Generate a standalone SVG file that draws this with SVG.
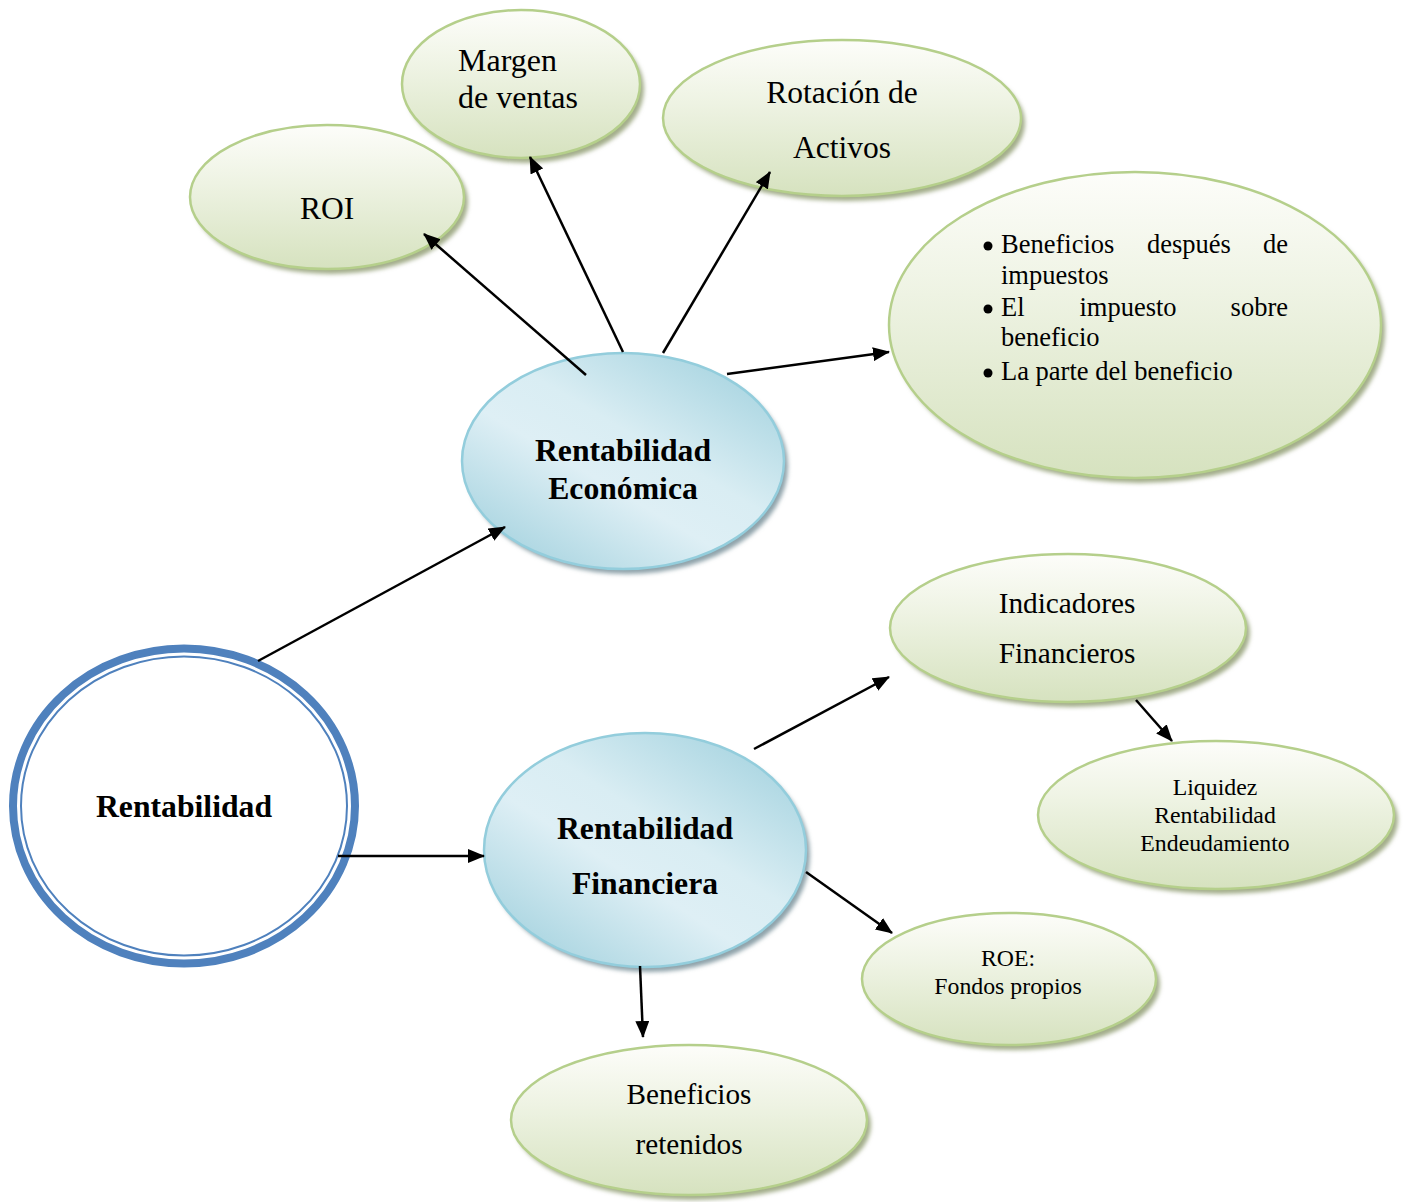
<svg xmlns="http://www.w3.org/2000/svg" width="1408" height="1202" viewBox="0 0 1408 1202">
<defs>
<style>
.g{fill:url(#gg);stroke:#b5cf8b;stroke-width:2.5}
.sh{fill:#a3ad8a;filter:url(#bl)}
.shb{fill:#8fa3aa;filter:url(#bl)}
.b{fill:url(#bg);stroke:#93cddc;stroke-width:2.5}
.t{font-family:"Liberation Serif","Times New Roman",serif;fill:#000}
.tb{font-family:"Liberation Serif","Times New Roman",serif;font-weight:bold;fill:#000;font-size:31.7px;text-anchor:middle}
.c{stroke:#000;stroke-width:2.5;fill:none;marker-end:url(#ah)}
</style>
<linearGradient id="gg" x1="0" y1="0" x2="0" y2="1">
<stop offset="0" stop-color="#fdfdfa"/>
<stop offset="0.4" stop-color="#eef3e3"/>
<stop offset="1" stop-color="#d6e2bf"/>
</linearGradient>
<linearGradient id="bg" x1="0.9" y1="0.1" x2="0.15" y2="0.95">
<stop offset="0" stop-color="#a9d5e1"/>
<stop offset="0.4" stop-color="#d9edf3"/>
<stop offset="0.6" stop-color="#deeff5"/>
<stop offset="1" stop-color="#a8d4e0"/>
</linearGradient>
<filter id="bl" x="-10%" y="-10%" width="120%" height="120%"><feGaussianBlur stdDeviation="2"/></filter>
<marker id="ah" markerUnits="userSpaceOnUse" markerWidth="18" markerHeight="14" refX="16" refY="7" orient="auto">
<path d="M0,0 L17,7 L0,14 z" fill="#000"/>
</marker>
</defs>

<g id="rentabilidad">
<ellipse cx="184" cy="806" rx="171" ry="157.5" fill="#fff" stroke="#4f81bd" stroke-width="8"/>
<ellipse cx="184" cy="806" rx="163" ry="149.5" fill="none" stroke="#4f81bd" stroke-width="2"/>
<text class="tb" x="184" y="817">Rentabilidad</text>
</g>

<g id="economica">
<ellipse class="shb" cx="627" cy="466" rx="161" ry="108"/>
<ellipse class="b" cx="623" cy="461" rx="161" ry="108"/>
<text class="tb" x="623" y="461">Rentabilidad</text>
<text class="tb" x="623" y="499">Económica</text>
</g>

<g id="financiera">
<ellipse class="shb" cx="649" cy="855" rx="161" ry="117"/>
<ellipse class="b" cx="645" cy="850" rx="161" ry="117"/>
<text class="tb" x="645" y="839">Rentabilidad</text>
<text class="tb" x="645" y="894">Financiera</text>
</g>

<g id="roi">
<ellipse class="sh" cx="331" cy="202" rx="137" ry="72"/>
<ellipse class="g" cx="327" cy="197" rx="137" ry="72"/>
<text class="t" x="327" y="219" font-size="31.5" text-anchor="middle">ROI</text>
</g>

<g id="margen">
<ellipse class="sh" cx="525" cy="89" rx="119" ry="74"/>
<ellipse class="g" cx="521" cy="84" rx="119" ry="74"/>
<text class="t" x="458" y="71" font-size="32">Margen</text>
<text class="t" x="458" y="108" font-size="32">de ventas</text>
</g>

<g id="rotacion">
<ellipse class="sh" cx="846" cy="123" rx="179" ry="78"/>
<ellipse class="g" cx="842" cy="118" rx="179" ry="78"/>
<text class="t" x="842" y="103" font-size="31.5" text-anchor="middle">Rotación de</text>
<text class="t" x="842" y="158" font-size="31.5" text-anchor="middle">Activos</text>
</g>

<g id="beneficios">
<ellipse class="sh" cx="1139" cy="330" rx="246" ry="153"/>
<ellipse class="g" cx="1135" cy="325" rx="246" ry="153"/>
<g class="t" font-size="26.5">
<circle cx="988" cy="246" r="4.5" fill="#000"/>
<text x="1001" y="253">Beneficios</text>
<text x="1147" y="253">después</text>
<text x="1288" y="253" text-anchor="end">de</text>
<text x="1001" y="284">impuestos</text>
<circle cx="988" cy="309" r="4.5" fill="#000"/>
<text x="1001" y="316">El</text>
<text x="1128" y="316" text-anchor="middle">impuesto</text>
<text x="1288" y="316" text-anchor="end">sobre</text>
<text x="1001" y="346">beneficio</text>
<circle cx="988" cy="373" r="4.5" fill="#000"/>
<text x="1001" y="380">La parte del beneficio</text>
</g>
</g>

<g id="indicadores">
<ellipse class="sh" cx="1072" cy="633" rx="178" ry="74"/>
<ellipse class="g" cx="1068" cy="628" rx="178" ry="74"/>
<text class="t" x="1067" y="613" font-size="29.3" text-anchor="middle">Indicadores</text>
<text class="t" x="1067" y="663" font-size="29.3" text-anchor="middle">Financieros</text>
</g>

<g id="liquidez">
<ellipse class="sh" cx="1220" cy="820" rx="178" ry="74"/>
<ellipse class="g" cx="1216" cy="815" rx="178" ry="74"/>
<text class="t" x="1215" y="795" font-size="23.8" text-anchor="middle">Liquidez</text>
<text class="t" x="1215" y="823" font-size="23.8" text-anchor="middle">Rentabilidad</text>
<text class="t" x="1215" y="851" font-size="23.8" text-anchor="middle">Endeudamiento</text>
</g>

<g id="roe">
<ellipse class="sh" cx="1013" cy="984" rx="147" ry="66"/>
<ellipse class="g" cx="1009" cy="979" rx="147" ry="66"/>
<text class="t" x="1008" y="966" font-size="23.8" text-anchor="middle">ROE:</text>
<text class="t" x="1008" y="994" font-size="23.8" text-anchor="middle">Fondos propios</text>
</g>

<g id="retenidos">
<ellipse class="sh" cx="693" cy="1125" rx="178" ry="75"/>
<ellipse class="g" cx="689" cy="1120" rx="178" ry="75"/>
<text class="t" x="689" y="1104" font-size="29.2" text-anchor="middle">Beneficios</text>
<text class="t" x="689" y="1154" font-size="29.2" text-anchor="middle">retenidos</text>
</g>

<g id="connectors">
<line class="c" x1="258" y1="661" x2="505" y2="527"/>
<line class="c" x1="338" y1="856" x2="484" y2="856"/>
<line class="c" x1="586" y1="375" x2="424" y2="234"/>
<line class="c" x1="623" y1="352" x2="530" y2="157"/>
<line class="c" x1="663" y1="353" x2="770" y2="172"/>
<line class="c" x1="727" y1="374" x2="889" y2="352"/>
<line class="c" x1="754" y1="749" x2="889" y2="677"/>
<line class="c" x1="1136" y1="700" x2="1172" y2="741"/>
<line class="c" x1="806" y1="872" x2="892" y2="933"/>
<line class="c" x1="640" y1="966" x2="643" y2="1037"/>
</g>
</svg>
